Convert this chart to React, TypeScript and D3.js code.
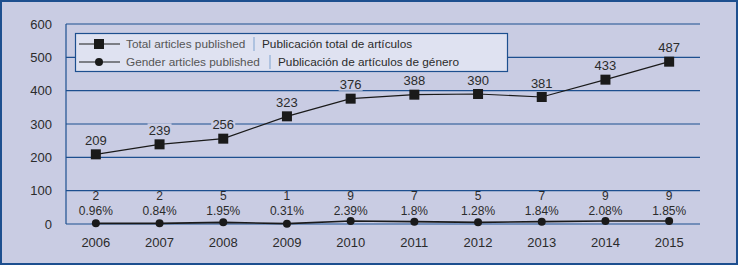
import React from "react";
import * as d3 from "d3";

const years = ["2006", "2007", "2008", "2009", "2010", "2011", "2012", "2013", "2014", "2015"];
const totalArticles = [209, 239, 256, 323, 376, 388, 390, 381, 433, 487];
const genderArticles = [2, 2, 5, 1, 9, 7, 5, 7, 9, 9];
const genderPct = ["0.96%", "0.84%", "1.95%", "0.31%", "2.39%", "1.8%", "1.28%", "1.84%", "2.08%", "1.85%"];
const yTicks = [0, 100, 200, 300, 400, 500, 600];
const legendEn = ["Total articles published", "Gender articles published"];
const legendEs = ["Publicación total de artículos", "Publicación de artículos de género"];

const W = 739;
const H = 266;
const BG = "#c9cce3";
const BLUE = "#1d4f8f";
const TXT = "#2b2b2b";
const FONT = "'Liberation Sans', Arial, sans-serif";

export default function App() {
  const x = d3.scaleBand<string>().domain(years).range([64, 701]);
  const cx = (d: string) => (x(d) as number) + x.bandwidth() / 2;
  const y = d3.scaleLinear().domain([0, 600]).range([224, 24]);

  const line = d3
    .line<number>()
    .x((_, i) => cx(years[i]))
    .y((d) => y(d));

  return (
    <svg
      width={W}
      height={H}
      style={{ position: "absolute", left: 0, top: 0 }}
      fontFamily={FONT}
    >
      <rect x={1} y={1} width={W - 3} height={H - 3} fill={BG} stroke={BLUE} strokeWidth={2} />
      {/* gridlines */}
      {yTicks.map((t) => (
        <g key={t}>
          <line x1={66} x2={700} y1={y(t)} y2={y(t)} stroke={BLUE} strokeWidth={1.2} />
          <text x={52} y={y(t)} dy="0.35em" textAnchor="end" fontSize={13} fill={TXT}>
            {t}
          </text>
        </g>
      ))}
      <line x1={66} x2={66} y1={y(600)} y2={y(0)} stroke={BLUE} strokeWidth={1.2} />
      {/* x labels */}
      {years.map((yr) => (
        <text key={yr} x={cx(yr)} y={242} dy="0.35em" textAnchor="middle" fontSize={13} fill={TXT}>
          {yr}
        </text>
      ))}
      {/* total line */}
      <path d={line(totalArticles) || ""} fill="none" stroke="#1a1a1a" strokeWidth={1.2} />
      {totalArticles.map((v, i) => (
        <rect key={i} x={cx(years[i]) - 5} y={y(v) - 5} width={10} height={10} fill="#1a1a1a" />
      ))}
      {totalArticles.map((v, i) => (
        <g key={"tl" + i}>
          <rect x={cx(years[i]) - 12} y={y(v) - 21} width={24} height={13} fill={BG} />
          <text x={cx(years[i])} y={y(v) - 14} dy="0.35em" textAnchor="middle" fontSize={13} fill={TXT}>
            {v}
          </text>
        </g>
      ))}
      {/* gender line */}
      <path d={line(genderArticles) || ""} fill="none" stroke="#1a1a1a" strokeWidth={1.6} />
      {genderArticles.map((v, i) => (
        <circle key={i} cx={cx(years[i])} cy={y(v)} r={4} fill="#1a1a1a" />
      ))}
      {genderArticles.map((v, i) => (
        <g key={"gl" + i}>
          <text x={cx(years[i])} y={196} dy="0.35em" textAnchor="middle" fontSize={12} fill={TXT}>
            {v}
          </text>
          <text x={cx(years[i])} y={211} dy="0.35em" textAnchor="middle" fontSize={12} fill={TXT}>
            {genderPct[i]}
          </text>
        </g>
      ))}
      {/* legend */}
      <rect x={75.5} y={33.5} width={432} height={38} fill="#dfe2f1" stroke={BLUE} strokeWidth={1.2} />
      {[0, 1].map((i) => {
        const ly = i === 0 ? 44 : 62;
        const sepX = i === 0 ? 254 : 270;
        return (
          <g key={"lg" + i}>
            <line x1={79} x2={120} y1={ly} y2={ly} stroke="#1a1a1a" strokeWidth={1.2} />
            {i === 0 ? (
              <rect x={94} y={ly - 5} width={10} height={10} fill="#1a1a1a" />
            ) : (
              <circle cx={99} cy={ly} r={4} fill="#1a1a1a" />
            )}
            <text x={126} y={ly} dy="0.35em" fontSize={11.8} fill="#555">
              {legendEn[i]}
            </text>
            <line x1={sepX} x2={sepX} y1={ly - 7} y2={ly + 7} stroke="#7fa3cf" strokeWidth={1} />
            <text x={sepX + 8} y={ly} dy="0.35em" fontSize={11.8} fill={TXT}>
              {legendEs[i]}
            </text>
          </g>
        );
      })}
    </svg>
  );
}
